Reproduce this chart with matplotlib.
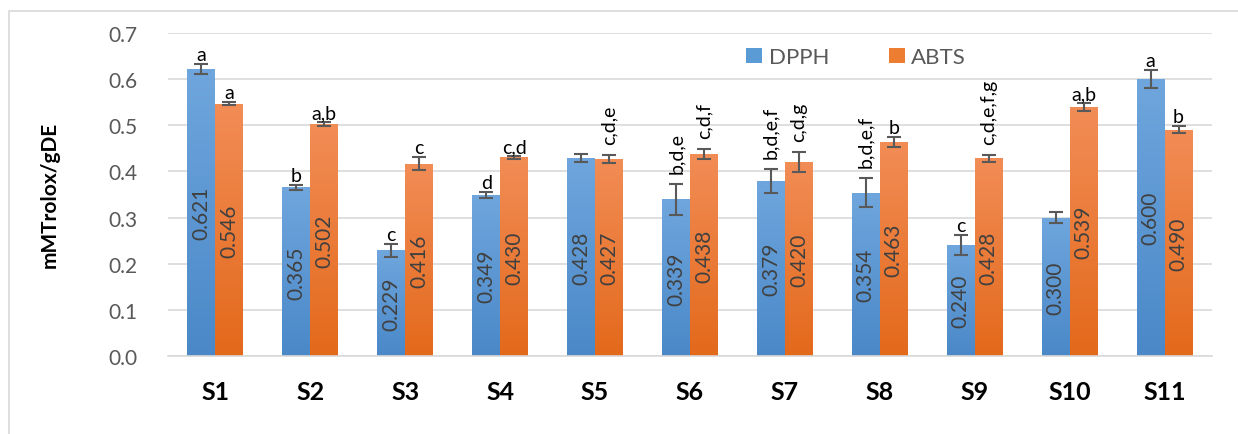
import numpy as np
import matplotlib
matplotlib.use("Agg")
from matplotlib import pyplot as plt
from matplotlib.colors import LinearSegmentedColormap
from matplotlib.patches import Rectangle

plt.rcParams['font.family'] = ['Lato', 'DejaVu Sans']

# データ
samples = ["S1", "S2", "S3", "S4", "S5", "S6", "S7", "S8", "S9", "S10", "S11"]
dpph = [0.621, 0.365, 0.229, 0.349, 0.428, 0.339, 0.379, 0.354, 0.240, 0.300, 0.600]
abts = [0.546, 0.502, 0.416, 0.430, 0.427, 0.438, 0.420, 0.463, 0.428, 0.539, 0.490]
dpph_err = [0.010, 0.005, 0.014, 0.007, 0.009, 0.034, 0.025, 0.032, 0.022, 0.012, 0.020]
abts_err = [0.003, 0.004, 0.014, 0.003, 0.009, 0.011, 0.022, 0.011, 0.008, 0.009, 0.008]
dpph_sig = ["a", "b", "c", "d", "", "b,d,e", "b,d,e,f", "b,d,e,f", "c", "", "a"]
abts_sig = ["a", "a,b", "c", "c,d", "c,d,e", "c,d,f", "c,d,g", "b", "c,d,e,f,g", "a,b", "b"]

# グラデーション (上:明るい, 下:濃い)
blue_cmap = LinearSegmentedColormap.from_list("blue", ["#4a88c8", "#6fa6dd"])
orange_cmap = LinearSegmentedColormap.from_list("orange", ["#e3691b", "#f28d56"])

fig = plt.figure(figsize=(12.38, 4.35), dpi=100)
ax = fig.add_axes([168 / 1238, 1 - 357.3 / 435, (1212 - 168) / 1238, (357.3 - 33.5) / 435])

# 外枠
fig.patches.append(Rectangle((9 / 1238, -0.1), 1.2, 1 - 12 / 435 + 0.1, transform=fig.transFigure,
                             fill=False, edgecolor="#d9d9d9", linewidth=1.2, zorder=0))

x = np.arange(len(samples))
w = 0.295
grad = np.linspace(0, 1, 256).reshape(-1, 1)

def draw_bars(xpos, vals, errs, cmap):
    bars = ax.bar(xpos, vals, w, color="none", edgecolor="none", zorder=2)
    for b in bars:
        im = ax.imshow(grad, cmap=cmap, aspect="auto", origin="lower", zorder=2,
                       extent=[b.get_x(), b.get_x() + b.get_width(), 0, b.get_height()])
        im.set_clip_path(b)
    ax.errorbar(xpos, vals, yerr=errs, fmt="none", ecolor="#595959", elinewidth=1.5,
                capsize=5, capthick=1.5, zorder=3)
    return bars

bars_d = draw_bars(x - w / 2, dpph, dpph_err, blue_cmap)
bars_a = draw_bars(x + w / 2, abts, abts_err, orange_cmap)

# 値ラベル(棒の中央, 縦書き)
for xs, vals in [(x - w / 2, dpph), (x + w / 2, abts)]:
    for xi, v in zip(xs, vals):
        ax.text(xi, v / 2, "{0:.3f}".format(v), rotation=90, ha="center", va="center",
                fontsize=15, color="#404040", zorder=4)

# 有意差の文字 (長いものは縦書き)
for xs, vals, errs, sigs in [(x - w / 2, dpph, dpph_err, dpph_sig), (x + w / 2, abts, abts_err, abts_sig)]:
    for xi, v, e, s in zip(xs, vals, errs, sigs):
        if s == "":
            continue
        top = v + e
        if len(s) >= 5:
            ax.text(xi, top + 0.024, s, rotation=90, rotation_mode="anchor", ha="left", va="center",
                    fontsize=14, color="black", zorder=4)
        else:
            ax.text(xi, top + 0.002, s, ha="center", va="bottom", fontsize=14, color="black", zorder=4)

ax.set_xlim(-0.5, len(samples) - 0.5)
ax.set_ylim(0, 0.7)
ax.set_yticks(np.arange(0, 0.71, 0.1))
ax.set_yticklabels(["{0:.1f}".format(t) for t in np.arange(0, 0.71, 0.1)], fontsize=15, color="#595959")
ax.set_xticks(x)
ax.set_xticklabels(samples, fontsize=18, fontweight="bold", color="black")
ax.tick_params(axis="both", length=0)
ax.tick_params(axis="x", pad=17)
ax.tick_params(axis="y", pad=22)
ax.grid(axis="y", color="#d9d9d9", linewidth=1.2, zorder=0)
ax.set_axisbelow(True)
for side in ["top", "right", "left"]:
    ax.spines[side].set_visible(False)
ax.spines["bottom"].set_color("#d9d9d9")
ax.spines["bottom"].set_linewidth(1.2)

ax.set_ylabel("mMTrolox/gDE", fontsize=15, fontweight="bold")
ax.yaxis.set_label_coords(-0.104, 0.5)

# 凡例
h1 = Rectangle((0, 0), 1, 1, facecolor="#5b9bd5")
h2 = Rectangle((0, 0), 1, 1, facecolor="#ed7d31")
ax.legend([h1, h2], ["DPPH", "ABTS"], loc="upper left", bbox_to_anchor=(0.554, 0.955), ncol=2,
          frameon=False, fontsize=16, handlelength=0.7, handleheight=0.7, handletextpad=0.3,
          columnspacing=2.7, labelcolor="#595959", borderpad=0, borderaxespad=0)

fig.savefig("out.png", dpi=100)
